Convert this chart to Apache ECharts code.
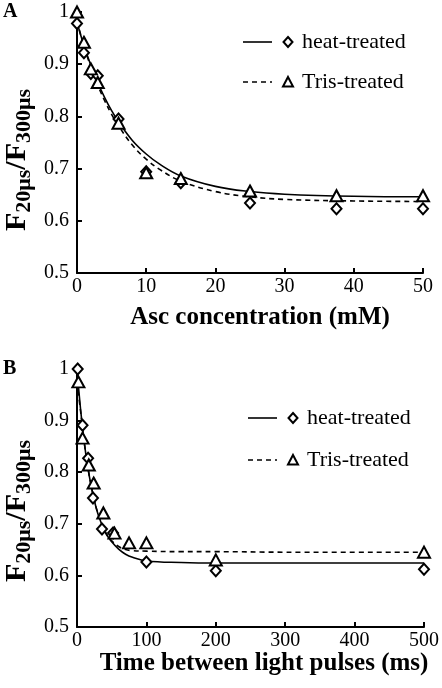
<!DOCTYPE html>
<html><head><meta charset="utf-8">
<script src="https://cdn.jsdelivr.net/npm/echarts@6/dist/echarts.min.js"></script>
<style>html,body{margin:0;padding:0;background:#fff}#c{width:442px;height:688px}</style>
</head><body><div id="c"></div>
<script>
// Panel A data
const ascHeatX = [0, 1, 2, 3, 6, 10, 15, 25, 37.5, 50];
const ascHeatY = [0.978, 0.922, 0.882, 0.878, 0.795, 0.694, 0.673, 0.634, 0.623, 0.623];
const ascTrisX = [0, 1, 2, 3, 6, 10, 15, 25, 37.5, 50];
const ascTrisY = [1.0, 0.942, 0.891, 0.865, 0.787, 0.692, 0.681, 0.657, 0.648, 0.648];
const ascFitX = [0, 1, 2, 3, 4, 5, 6, 8, 10, 12, 15, 20, 25, 30, 40, 50];
const ascFitHeat = [0.980, 0.936, 0.898, 0.865, 0.836, 0.811, 0.790, 0.754, 0.728, 0.708, 0.686, 0.666, 0.656, 0.651, 0.647, 0.646];
const ascFitTris = [0.982, 0.935, 0.895, 0.860, 0.830, 0.804, 0.782, 0.745, 0.718, 0.698, 0.676, 0.656, 0.646, 0.641, 0.638, 0.637];
// Panel B data
const timeHeatX = [1, 8, 16, 23, 36, 52, 100, 200, 500];
const timeHeatY = [1.0, 0.891, 0.827, 0.750, 0.690, 0.682, 0.626, 0.609, 0.612];
const timeTrisX = [2, 8, 17, 24, 38, 54, 75, 100, 200, 500];
const timeTrisY = [0.975, 0.866, 0.814, 0.779, 0.721, 0.682, 0.663, 0.663, 0.630, 0.645];
const timeFitX = [0, 5, 10, 15, 20, 25, 30, 40, 50, 60, 70, 80, 100, 150, 200, 300, 500];
const timeFitHeat = [1.0, 0.924, 0.863, 0.814, 0.776, 0.745, 0.720, 0.685, 0.665, 0.651, 0.641, 0.635, 0.628, 0.625, 0.624, 0.624, 0.624];
const timeFitTris = [0.975, 0.920, 0.862, 0.815, 0.777, 0.746, 0.721, 0.687, 0.667, 0.656, 0.650, 0.648, 0.647, 0.646, 0.646, 0.645, 0.645];
const legendNames = ['heat-treated', 'Tris-treated'];

const zip = (xs, ys) => xs.map((x, i) => [x, ys[i]]);
const serif = 'Liberation Serif';
const chart = echarts.init(document.getElementById('c'));
const ctx = document.createElement('canvas').getContext('2d');
function tw(t, size) { ctx.font = 'bold ' + size + 'px "' + serif + '"'; return ctx.measureText(t).width; }

function xAxis(gi, max, interval) {
  return {
    type: 'value', gridIndex: gi, min: 0, max: max, interval: interval,
    axisLine: { lineStyle: { color: '#000', width: 2 } },
    axisTick: { inside: true, length: 5, lineStyle: { color: '#000', width: 2 } },
    axisLabel: { color: '#000', fontFamily: serif, fontSize: 20, margin: 4 },
    splitLine: { show: false }
  };
}
function yAxis(gi) {
  return {
    type: 'value', gridIndex: gi, min: 0.5, max: 1, interval: 0.1,
    axisLine: { show: true, lineStyle: { color: '#000', width: 2 } },
    axisTick: { show: true, inside: true, length: 5, lineStyle: { color: '#000', width: 2 } },
    axisLabel: { color: '#000', fontFamily: serif, fontSize: 20, margin: 8,
      formatter: v => String(Math.round(v * 10) / 10) },
    splitLine: { show: false }
  };
}
function fit(xi, data, dashed) {
  return { type: 'line', xAxisIndex: xi, yAxisIndex: xi, data: data, smooth: 0.4,
    symbol: 'none', z: 2, silent: true,
    lineStyle: { color: '#000', width: 1.6, type: dashed ? [5, 4] : 'solid' } };
}
function pts(xi, data, sym) {
  return { type: 'scatter', xAxisIndex: xi, yAxisIndex: xi, data: data, z: sym === 'triangle' ? 4 : 3,
    symbol: sym, symbolSize: sym === 'triangle' ? [12, 11] : [10, 11],
    itemStyle: { color: '#fff', borderColor: '#000', borderWidth: 2, opacity: 1 } };
}

function yTitle(cx, cy) {
  const M = 30, S = 22;
  const parts = [['F', M, 0], ['20μs', S, 7], ['/F', M, 0], ['300μs', S, 7]];
  const total = parts.reduce((a, p) => a + tw(p[0], p[1]), 0);
  let x = -total / 2;
  const children = parts.map(p => {
    const el = { type: 'text', x: x, y: p[2],
      style: { text: p[0], fontFamily: serif, fontWeight: 'bold', fontSize: p[1], fill: '#000', align: 'left', verticalAlign: 'middle' } };
    x += tw(p[0], p[1]);
    return el;
  });
  return { type: 'group', x: cx, y: cy, rotation: Math.PI / 2, children: children };
}
function legend(x0, y1, y2) {
  const els = [];
  els.push({ type: 'line', shape: { x1: x0, y1: y1, x2: x0 + 29, y2: y1 }, style: { stroke: '#000', lineWidth: 1.6 } });
  els.push({ type: 'line', shape: { x1: x0, y1: y2, x2: x0 + 29, y2: y2 }, style: { stroke: '#000', lineWidth: 1.6, lineDash: [5, 4] } });
  els.push({ type: 'polygon', shape: { points: [[x0 + 45, y1 - 5], [x0 + 49.5, y1], [x0 + 45, y1 + 5], [x0 + 40.5, y1]] }, style: { fill: '#fff', stroke: '#000', lineWidth: 2 } });
  els.push({ type: 'polygon', shape: { points: [[x0 + 45, y2 - 5], [x0 + 50, y2 + 4.5], [x0 + 40, y2 + 4.5]] }, style: { fill: '#fff', stroke: '#000', lineWidth: 2 } });
  els.push({ type: 'text', x: x0 + 59, y: y1, style: { text: legendNames[0], fontFamily: serif, fontSize: 22, fill: '#000', verticalAlign: 'middle' } });
  els.push({ type: 'text', x: x0 + 59, y: y2, style: { text: legendNames[1], fontFamily: serif, fontSize: 22, fill: '#000', verticalAlign: 'middle' } });
  return els;
}

chart.setOption({
  animation: false,
  backgroundColor: '#fff',
  grid: [
    { left: 77, right: 19, top: 12, height: 261 },
    { left: 77, right: 15, top: 369, height: 258 }
  ],
  xAxis: [xAxis(0, 50, 10), xAxis(1, 500, 100)],
  yAxis: [yAxis(0), yAxis(1)],
  series: [
    fit(0, zip(ascFitX, ascFitHeat), false),
    fit(0, zip(ascFitX, ascFitTris), true),
    pts(0, zip(ascHeatX, ascHeatY), 'diamond'),
    pts(0, zip(ascTrisX, ascTrisY), 'triangle'),
    fit(1, zip(timeFitX, timeFitHeat), false),
    fit(1, zip(timeFitX, timeFitTris), true),
    pts(1, zip(timeHeatX, timeHeatY), 'diamond'),
    pts(1, zip(timeTrisX, timeTrisY), 'triangle')
  ],
  graphic: [
    { type: 'text', x: 3, y: 2, style: { text: 'A', fontFamily: serif, fontWeight: 'bold', fontSize: 20, fill: '#000' } },
    { type: 'text', x: 3, y: 359, style: { text: 'B', fontFamily: serif, fontWeight: 'bold', fontSize: 20, fill: '#000' } },
    yTitle(17, 160), yTitle(17, 511),
    { type: 'text', x: 260, y: 318, style: { text: 'Asc concentration (mM)', fontFamily: serif, fontWeight: 'bold', fontSize: 25, fill: '#000', align: 'center', verticalAlign: 'middle' } },
    { type: 'text', x: 264, y: 664, style: { text: 'Time between light pulses (ms)', fontFamily: serif, fontWeight: 'bold', fontSize: 25, fill: '#000', align: 'center', verticalAlign: 'middle' } },
    ...legend(243, 42, 82),
    ...legend(248, 418, 460)
  ]
});
</script></body></html>
